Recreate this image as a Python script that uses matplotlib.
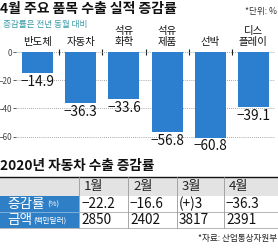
import matplotlib.pyplot as plt
from matplotlib.patches import Rectangle

plt.rcParams['font.family'] = ['Noto Sans CJK KR', 'DejaVu Sans']

# 4월 주요 품목 수출 실적 증감률 (%)
items = ['반도체', '자동차', '석유\n화학', '석유\n제품', '선박', '디스\n플레이']
rates = [-14.9, -36.3, -33.6, -56.8, -60.8, -39.1]
yticks = [0, -20, -40, -60]

# 2020년 자동차 수출 증감률 table
months = ['1월', '2월', '3월', '4월']
car_rate = ['−22.2', '−16.6', '(+)3', '−36.3']
car_amount = ['2850', '2402', '3817', '2391']

BAR = '#2b7fce'
CELL = '#2f7fc6'
W, H = 278, 249

fig = plt.figure(figsize=(W / 100, H / 100), dpi=100)

# bar chart, placed in pixel terms: zero line at y=52, -70 at y=150.6
ax = fig.add_axes([16 / W, 1 - 150.6 / H, (275 - 16) / W, 98.6 / H])
ax.bar(range(len(rates)), rates, width=0.72, color=BAR, zorder=2)
ax.set_xlim(-0.5, len(rates) - 0.5)
ax.set_ylim(-70, 0)
for i, v in enumerate(rates):
    ax.text(i, v - 1.2, '−%.1f' % abs(v), ha='center', va='top', fontsize=9.8,
            color='#111')
    ax.text(i, 3.6, items[i], ha='center', va='bottom', fontsize=7.5,
            linespacing=1.15, color='#111', clip_on=False)

ax.set_yticks(yticks)
ax.set_yticklabels([str(t).replace('-', '−') for t in yticks])
ax.tick_params(axis='y', length=2, width=0.6, pad=0.5, labelsize=5.8,
               colors='#444')
ax.grid(axis='y', linestyle=(0, (1, 1.5)), color='#8a8a8a', lw=0.6, zorder=0)
ax.xaxis.tick_top()
ax.set_xticks([i + 0.5 for i in range(len(rates) - 1)])
ax.set_xticklabels([])
ax.tick_params(axis='x', direction='inout', length=4, width=0.8, colors='#222')
for s in ax.spines.values():
    s.set_visible(False)

# overlay in pixel coords for titles and the table
tab = fig.add_axes([0, 0, 1, 1])
tab.set_xlim(0, W)
tab.set_ylim(H, 0)
tab.axis('off')

tab.text(0, 9, '4월 주요 품목 수출 실적 증감률', fontsize=10, weight='bold',
         va='center', color='#111')
tab.text(277, 11, '*단위: %', fontsize=6.2, ha='right', va='center', color='#333')
tab.text(3, 24, '증감률은 전년 동월 대비', fontsize=6.2, va='center',
         color='#3a9aa6')
tab.text(0, 166, '2020년 자동차 수출 증감률', fontsize=9.8, weight='bold',
         va='center', color='#111')

cols = [0, 79, 128, 177, 224, W]
rows = [177, 196, 212, 228]

tab.add_patch(Rectangle((0, rows[0]), W, rows[1] - rows[0], color='#e3e3e3', lw=0))
tab.add_patch(Rectangle((0, rows[1]), cols[1], rows[3] - rows[1], color=CELL, lw=0))
tab.plot([0, W], [rows[0], rows[0]], color='#111', lw=1)
tab.plot([cols[1], W], [rows[2], rows[2]], color='#aaa', lw=0.6)
tab.plot([0, cols[1]], [rows[2], rows[2]], color='#8bb8e0', lw=0.6)
tab.plot([0, W], [rows[3], rows[3]], color='#aaa', lw=0.6)
for x in cols[1:-1]:
    tab.plot([x, x], [rows[0], rows[3]], color='#999', lw=0.6)

for j in range(len(months)):
    tab.text(cols[j + 1] + 5, (rows[0] + rows[1]) / 2, months[j], fontsize=9.5,
             va='center', color='#222')
    tab.text(cols[j + 1] + 2, (rows[1] + rows[2]) / 2, car_rate[j], fontsize=9.8,
             va='center', color='#111')
    tab.text(cols[j + 1] + 2, (rows[2] + rows[3]) / 2, car_amount[j], fontsize=9.8,
             va='center', color='#111')

tab.text(7, (rows[1] + rows[2]) / 2, '증감률', fontsize=9.8, va='center', color='white')
tab.text(47, (rows[1] + rows[2]) / 2 + 1, '(%)', fontsize=5.5, va='center', color='white')
tab.text(7, (rows[2] + rows[3]) / 2, '금액', fontsize=9.8, va='center', color='white')
tab.text(33, (rows[2] + rows[3]) / 2 + 1, '(백만달러)', fontsize=5.5, va='center',
         color='white')

tab.text(277, 238, '*자료: 산업통상자원부', fontsize=6.2, ha='right', va='center',
         color='#222')

fig.savefig('out.png', dpi=100)
